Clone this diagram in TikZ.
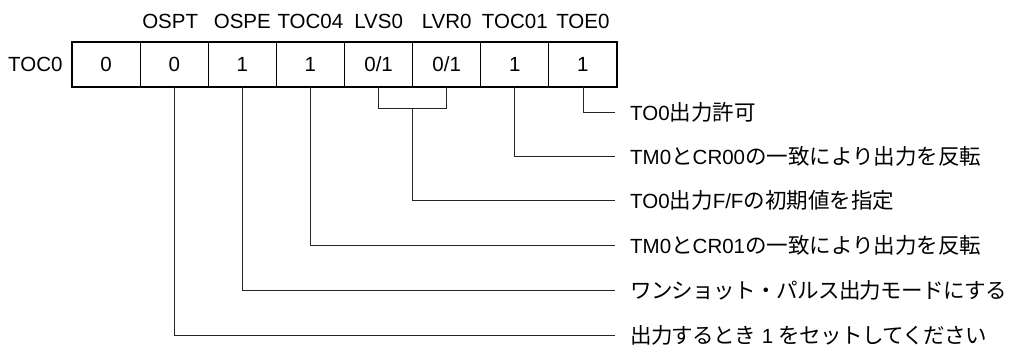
\documentclass[tikz,border=0pt]{standalone}
\usepackage{fontspec}
\setmainfont{Liberation Sans}
\newfontfamily\jp{Noto Sans CJK JP}[Scale=1.05]
\newfontfamily\jpkana{Noto Sans CJK JP}[Scale=1.05,LetterSpace=-3]
\usetikzlibrary{positioning,calc}

\begin{document}
\begin{tikzpicture}[x=1pt,y=-1pt,
  cell/.style={draw,line width=0.8pt,minimum width=68.1pt,minimum height=45pt,inner sep=0pt,font=\fontsize{20.5}{22}\selectfont},
  bitname/.style={inner sep=0pt,font=\fontsize{20.5}{22}\selectfont},
  desc/.style={anchor=west,inner xsep=15pt,inner ysep=0pt,font=\fontsize{20.5}{22}\selectfont},
  leader/.style={line width=0.8pt,black!85}]
\useasboundingbox (0,0) rectangle (1012,347);
% register cells
\node[cell] (c1) at (106.1,64.5) {0};
\node[cell] (c2) at (174.2,64.5) {0};
\node[cell] (c3) at (242.3,64.5) {1};
\node[cell] (c4) at (310.4,64.5) {1};
\node[cell] (c5) at (378.6,64.5) {0/1};
\node[cell] (c6) at (446.7,64.5) {0/1};
\node[cell] (c7) at (514.8,64.5) {1};
\node[cell] (c8) at (582.9,64.5) {1};
\draw[line width=1.8pt] (c1.north west) rectangle (c8.south east);
\node[bitname,left=9pt of c1] (regname) {TOC0};
% bit names
\node[bitname,above=13pt of c2,xshift=-4pt] (ospt) {OSPT};
\node[bitname,above=13pt of c3] (ospe) {OSPE};
\node[bitname,above=13pt of c4] (toc04) {TOC04};
\node[bitname,above=13pt of c5] (lvs0) {LVS0};
\node[bitname,above=13pt of c6] (lvr0) {LVR0};
\node[bitname,above=13pt of c7] (toc01) {TOC01};
\node[bitname,above=13pt of c8] (toe0) {TOE0};
% descriptions
\node[desc] (d1) at (615,112) {TO0{\jp 出力許可}};
\node[desc] (d2) at (615,156) {TM0{\jp と}CR00{\jp の一致により出力を反転}};
\node[desc] (d3) at (615,200) {TO0{\jp 出力}F/F{\jp の初期値を指定}};
\node[desc] (d4) at (615,245) {TM0{\jp と}CR01{\jp の一致により出力を反転}};
\node[desc] (d5) at (615,290) {{\jpkana ワンショット・パルス出力モードにする}};
\node[desc] (d6) at (615,335) {{\jpkana 出力するとき} 1 {\jpkana をセットしてください}};
% leaders
\draw[leader] (c8.south) |- (d1.west);
\draw[leader] (c7.south) |- (d2.west);
\draw[leader] (c5.south) -- ++(0,21) -| (c6.south);
\draw[leader] ($(c5.south)!.5!(c6.south)+(0,21)$) |- (d3.west);
\draw[leader] (c4.south) |- (d4.west);
\draw[leader] (c3.south) |- (d5.west);
\draw[leader] (c2.south) |- (d6.west);
\end{tikzpicture}
\end{document}
